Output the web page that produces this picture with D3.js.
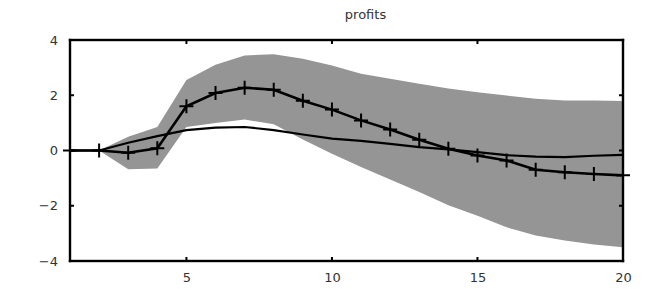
<!DOCTYPE html>
<html>
<head>
<meta charset="utf-8">
<script src="https://cdn.jsdelivr.net/npm/d3@7"></script>
<style>
  body { margin: 0; background: #fff; }
  .tick text { font-family: "DejaVu Sans", sans-serif; font-size: 13px; fill: #333; }
</style>
</head>
<body>
<div id="chart"></div>
<script>
const width = 650;
const height = 289;
const margin = {top: 40, left: 70, bottom: 28, right: 27};

// horizons 1..20
const steps = d3.range(1, 21);
// impulse response with + markers
const irf = [0, 0, -0.08, 0.08, 1.6, 2.08, 2.27, 2.2, 1.8, 1.48, 1.09, 0.76, 0.39, 0.06, -0.18, -0.36, -0.7, -0.79, -0.85, -0.9];
// smooth line without markers
const smooth = [0, 0, 0.28, 0.52, 0.74, 0.83, 0.85, 0.74, 0.58, 0.43, 0.35, 0.24, 0.12, 0.04, -0.06, -0.17, -0.22, -0.24, -0.19, -0.16];
// confidence band
const upper = [0, 0, 0.5, 0.85, 2.55, 3.1, 3.44, 3.48, 3.32, 3.08, 2.78, 2.6, 2.42, 2.24, 2.11, 1.99, 1.87, 1.81, 1.81, 1.79];
const lower = [0, 0, -0.68, -0.65, 0.85, 1.0, 1.12, 0.95, 0.4, -0.12, -0.6, -1.05, -1.5, -1.98, -2.36, -2.78, -3.08, -3.26, -3.4, -3.5];

const xTicks = [5, 10, 15, 20];
const yTicks = [-4, -2, 0, 2, 4];
const title = 'profits';

const x = d3.scaleLinear()
  .domain([1, 20])
  .range([margin.left, width - margin.right]);

const y = d3.scaleLinear()
  .domain([-4, 4])
  .range([height - margin.bottom, margin.top]);

const svg = d3.select('#chart').append('svg')
  .attr('width', width)
  .attr('height', height);

// band
const area = d3.area()
  .x((d, i) => x(steps[i]))
  .y0((d, i) => y(lower[i]))
  .y1((d, i) => y(upper[i]));

svg.append('path')
  .datum(upper)
  .attr('d', area)
  .style('fill', '#959595');

const line = d3.line()
  .x((d, i) => x(steps[i]))
  .y(d => y(d));

svg.append('path')
  .datum(smooth)
  .attr('d', line)
  .style('fill', 'none')
  .style('stroke', '#000')
  .style('stroke-width', 2.2);

svg.append('path')
  .datum(irf)
  .attr('d', line)
  .style('fill', 'none')
  .style('stroke', '#000')
  .style('stroke-width', 2.6);

// + markers
const m = 7;
svg.append('g')
  .selectAll('path').data(irf).enter().append('path')
  .attr('d', (d, i) => {
    const cx = x(steps[i]), cy = y(d);
    return `M${cx - m},${cy}H${cx + m}M${cx},${cy - m}V${cy + m}`;
  })
  .style('stroke', '#000')
  .style('stroke-width', 2);

// tick labels from the axes
svg.append('g')
  .attr('transform', `translate(0, ${height - margin.bottom})`)
  .call(d3.axisBottom(x).tickValues(xTicks).tickSize(0).tickPadding(12).tickSizeOuter(0))
  .call(g => g.select('.domain').remove());

svg.append('g')
  .attr('transform', `translate(${margin.left}, 0)`)
  .call(d3.axisLeft(y).tickValues(yTicks).tickSize(0).tickPadding(12).tickSizeOuter(0))
  .call(g => g.select('.domain').remove());

// frame and inward ticks as thin filled bars
const x0 = x(1), x1 = x(20);
const y0 = y(4), y1 = y(-4);
const lw = 2.4, t = 4;
const bars = [
  {x: x0 - lw / 2, y: y0 - lw / 2, w: x1 - x0 + lw, h: lw},
  {x: x0 - lw / 2, y: y1 - lw / 2, w: x1 - x0 + lw, h: lw},
  {x: x0 - lw / 2, y: y0 - lw / 2, w: lw, h: y1 - y0 + lw},
  {x: x1 - lw / 2, y: y0 - lw / 2, w: lw, h: y1 - y0 + lw}
];
xTicks.forEach(v => {
  bars.push({x: x(v) - 1, y: y1 - t, w: 2, h: t});
  bars.push({x: x(v) - 1, y: y0, w: 2, h: t});
});
yTicks.forEach(v => {
  bars.push({x: x0, y: y(v) - 1, w: t, h: 2});
  bars.push({x: x1 - t, y: y(v) - 1, w: t, h: 2});
});

svg.append('g')
  .selectAll('rect').data(bars).enter().append('rect')
  .attr('x', d => d.x)
  .attr('y', d => d.y)
  .attr('width', d => d.w)
  .attr('height', d => d.h)
  .style('fill', '#000');

svg.append('text')
  .attr('x', (x0 + x1) / 2 + 19)
  .attr('y', 19)
  .attr('text-anchor', 'middle')
  .style('font-family', '"DejaVu Sans", sans-serif')
  .style('font-size', '13px')
  .style('fill', '#333')
  .text(title);
</script>
</body>
</html>
